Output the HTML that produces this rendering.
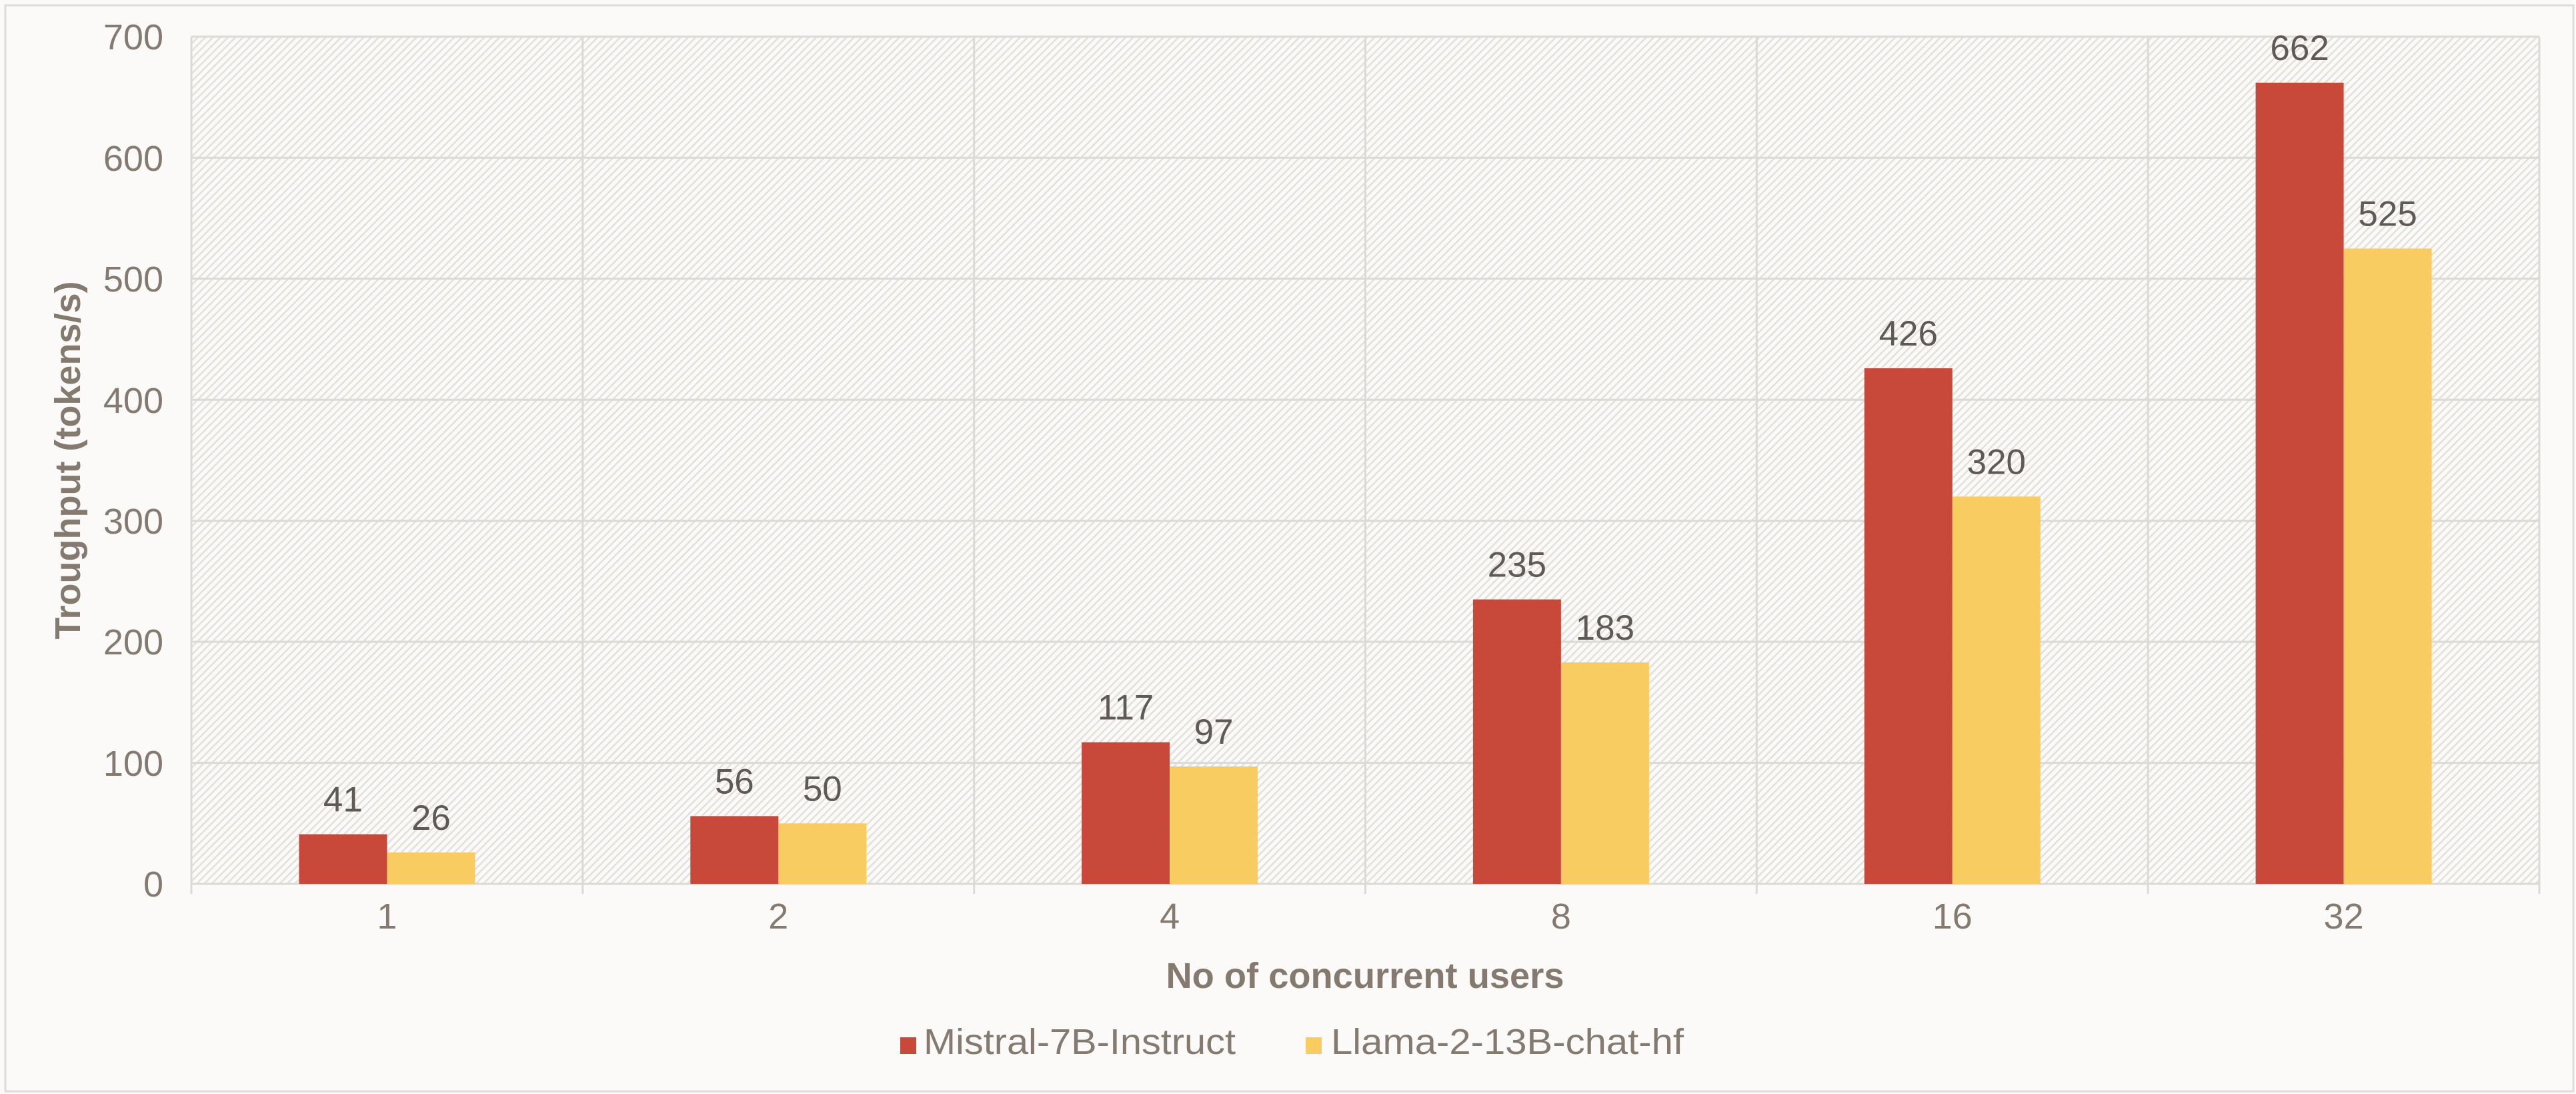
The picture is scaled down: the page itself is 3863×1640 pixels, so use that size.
<!DOCTYPE html>
<html><head><meta charset="utf-8"><style>
html,body{margin:0;padding:0;background:#fbfaf8;}
svg{display:block;}
text{font-family:"Liberation Sans",sans-serif;}
</style></head><body>
<svg width="3863" height="1640" viewBox="0 0 3863 1640" xmlns="http://www.w3.org/2000/svg">
<defs>
<pattern id="h" width="8" height="8" patternUnits="userSpaceOnUse" patternTransform="rotate(-45)">
<rect width="8" height="8" fill="#fbfaf8"/>
<rect x="0" y="0" width="8" height="2.6" fill="#e3e1de"/>
</pattern>
</defs>
<rect x="0" y="0" width="3863" height="1640" fill="#fbfaf8"/>
<rect x="8" y="8" width="3851" height="1628" fill="none" stroke="#dedcd9" stroke-width="3"/>
<rect x="287" y="55" width="3521" height="1270" fill="url(#h)"/>
<g stroke="#dcdad7" stroke-width="3">
<line x1="287" y1="55" x2="3808" y2="55"/>
<line x1="287" y1="236.4" x2="3808" y2="236.4"/>
<line x1="287" y1="417.9" x2="3808" y2="417.9"/>
<line x1="287" y1="599.3" x2="3808" y2="599.3"/>
<line x1="287" y1="780.7" x2="3808" y2="780.7"/>
<line x1="287" y1="962.1" x2="3808" y2="962.1"/>
<line x1="287" y1="1143.6" x2="3808" y2="1143.6"/>
<line x1="287" y1="1325" x2="3808" y2="1325"/>
<line x1="287" y1="55" x2="287" y2="1340"/>
<line x1="873.8" y1="55" x2="873.8" y2="1340"/>
<line x1="1460.7" y1="55" x2="1460.7" y2="1340"/>
<line x1="2047.5" y1="55" x2="2047.5" y2="1340"/>
<line x1="2634.3" y1="55" x2="2634.3" y2="1340"/>
<line x1="3221.2" y1="55" x2="3221.2" y2="1340"/>
<line x1="3808" y1="55" x2="3808" y2="1340"/>
</g>
<g fill="#c8483a">
<rect x="448.4" y="1250.6" width="132" height="74.4"/>
<rect x="1035.3" y="1223.4" width="132" height="101.6"/>
<rect x="1622.1" y="1112.7" width="132" height="212.3"/>
<rect x="2208.9" y="898.6" width="132" height="426.4"/>
<rect x="2795.8" y="552.1" width="132" height="772.9"/>
<rect x="3382.6" y="123.9" width="132" height="1201.1"/>
</g>
<g fill="#f9cc62">
<rect x="580.4" y="1277.8" width="132" height="47.2"/>
<rect x="1167.3" y="1234.3" width="132" height="90.7"/>
<rect x="1754.1" y="1149.0" width="132" height="176"/>
<rect x="2340.9" y="993" width="132" height="332"/>
<rect x="2927.8" y="744.4" width="132" height="580.6"/>
<rect x="3514.6" y="372.5" width="132" height="952.5"/>
</g>
<g fill="#5f5a55" font-size="53" text-anchor="middle">
<text x="514.4" y="1216.6">41</text>
<text x="646.4" y="1243.8">26</text>
<text x="1101.3" y="1189.4">56</text>
<text x="1233.3" y="1200.3">50</text>
<text x="1688.1" y="1078.7">117</text>
<text x="1820.1" y="1115">97</text>
<text x="2274.9" y="864.6">235</text>
<text x="2406.9" y="959">183</text>
<text x="2861.8" y="518.1">426</text>
<text x="2993.8" y="710.4">320</text>
<text x="3448.6" y="89.9">662</text>
<text x="3580.6" y="338.5">525</text>
</g>
<g fill="#857a70" font-size="54" text-anchor="end">
<text x="245" y="1344">0</text>
<text x="245" y="1163">100</text>
<text x="245" y="981">200</text>
<text x="245" y="800">300</text>
<text x="245" y="619">400</text>
<text x="245" y="437">500</text>
<text x="245" y="256">600</text>
<text x="245" y="74">700</text>
</g>
<g fill="#857a70" font-size="54" text-anchor="middle">
<text x="580.4" y="1392">1</text>
<text x="1167.3" y="1392">2</text>
<text x="1754.1" y="1392">4</text>
<text x="2340.9" y="1392">8</text>
<text x="2927.8" y="1392">16</text>
<text x="3514.6" y="1392">32</text>
</g>
<text x="2047" y="1481" fill="#857a70" font-size="54" font-weight="bold" text-anchor="middle" textLength="597" lengthAdjust="spacingAndGlyphs">No of concurrent users</text>
<text transform="translate(120,690) rotate(-90)" fill="#857a70" font-size="54" font-weight="bold" text-anchor="middle">Troughput (tokens/s)</text>
<rect x="1350" y="1555" width="24" height="25" fill="#c8483a"/>
<text x="1385" y="1580" fill="#857a70" font-size="54" textLength="468" lengthAdjust="spacingAndGlyphs">Mistral-7B-Instruct</text>
<rect x="1958" y="1555" width="24" height="25" fill="#f9cc62"/>
<text x="1996" y="1580" fill="#857a70" font-size="54" textLength="529" lengthAdjust="spacingAndGlyphs">Llama-2-13B-chat-hf</text>
</svg>
</body></html>
